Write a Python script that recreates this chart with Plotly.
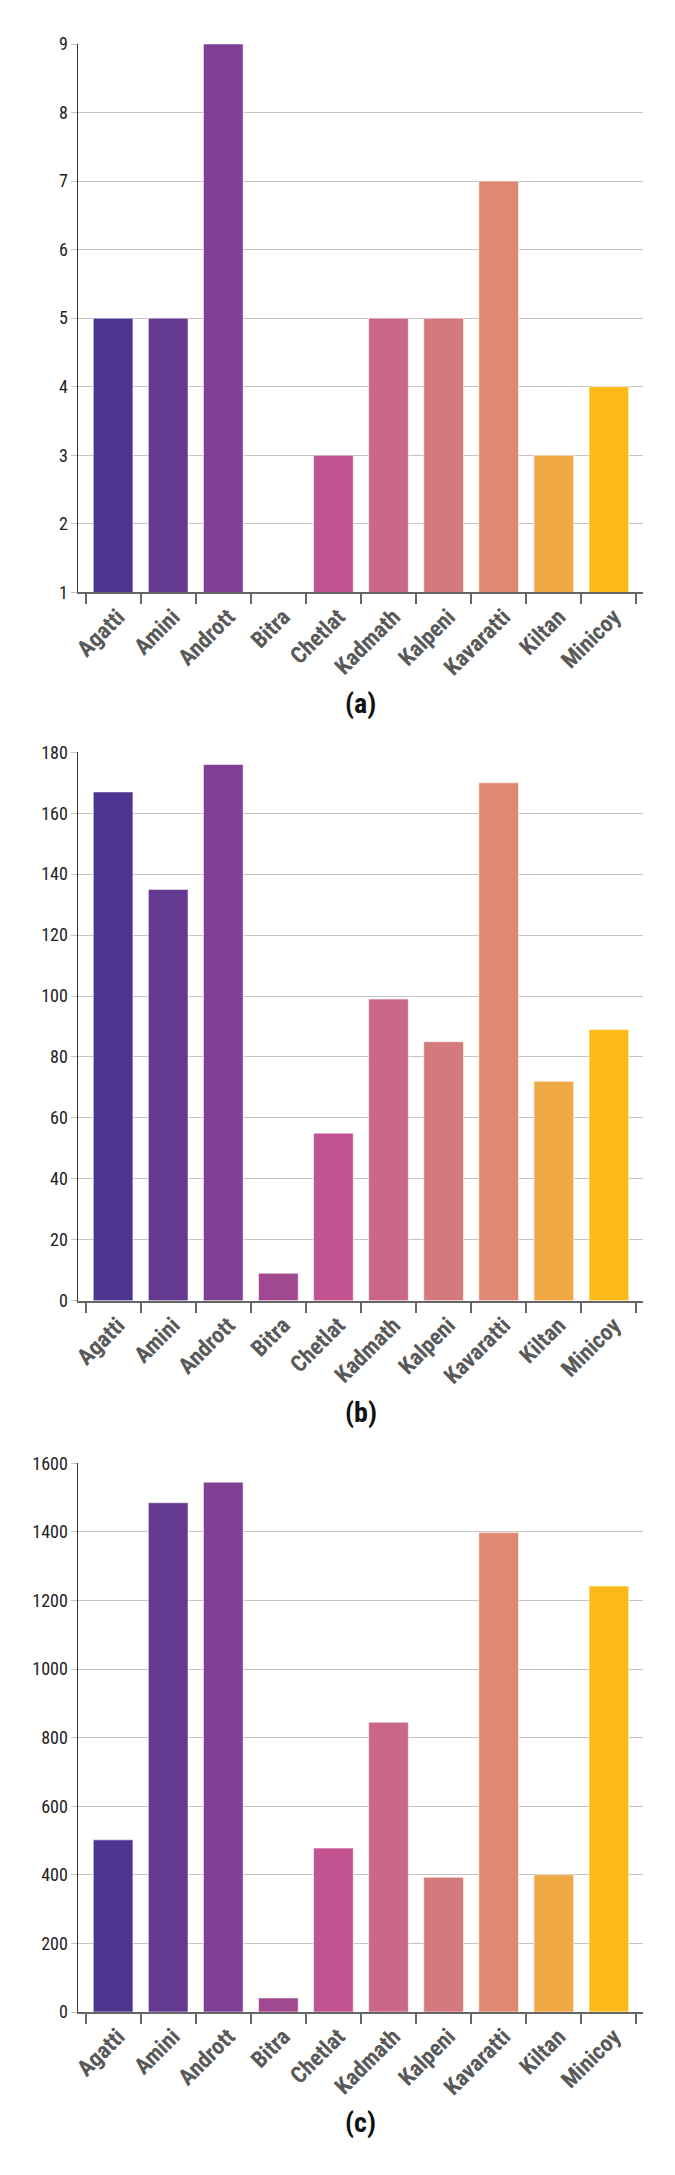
import plotly.graph_objects as go

categories = ["Agatti", "Amini", "Andrott", "Bitra", "Chetlat", "Kadmath",
              "Kalpeni", "Kavaratti", "Kiltan", "Minicoy"]
values_a = [5, 5, 9, 1, 3, 5, 5, 7, 3, 4]
values_b = [167, 135, 176, 9, 55, 99, 85, 170, 72, 89]
values_c = [502, 1485, 1545, 41, 478, 845, 393, 1398, 400, 1242]
panel_titles = ["(a)", "(b)", "(c)"]
y_ranges = [[1, 9], [0, 180], [0, 1600]]
y_dticks = [1, 20, 200]
bar_colors = ["#4E3491", "#643A90", "#7F3F92", "#A14990", "#C25290",
              "#CC6689", "#D4797D", "#DE8971", "#F0A945", "#FBBA18"]

W, H = 675, 2175
panel_px = [(44, 592.3), (752.3, 1300.7), (1463.3, 2012)]
title_px = [703, 1412, 2122]
x_left, x_right = 78.4, 643
FONT = "Roboto Condensed, Liberation Sans Narrow, DejaVu Sans Condensed, Roboto"
EDGE = "rgba(255,255,255,0.55)"

fig = go.Figure()
layout = dict(width=W, height=H, margin=dict(l=0, r=0, t=0, b=0, autoexpand=False),
              plot_bgcolor="white", paper_bgcolor="white",
              showlegend=False, bargap=0.28, annotations=[])

for i, vals in enumerate([values_a, values_b, values_c]):
    n = "" if i == 0 else str(i + 1)
    lo = y_ranges[i][0]
    edges = [EDGE if v > lo else "rgba(0,0,0,0)" for v in vals]
    fig.add_trace(go.Bar(
        x=categories, y=vals, xaxis="x" + n, yaxis="y" + n,
        marker=dict(color=bar_colors, line=dict(color=edges, width=1)),
        hoverinfo="x+y"))
    top, bot = panel_px[i]
    layout["xaxis" + n] = dict(
        domain=[x_left / W, x_right / W], anchor="y" + n, automargin=False,
        type="category", range=[-0.63, 9.62],
        tickson="boundaries", ticks="outside", ticklen=10, tickwidth=1.5,
        tickcolor="#666", showline=True, linecolor="#666", linewidth=2,
        tickangle=-45, showgrid=False, ticklabelshift=5,
        tickfont=dict(family=FONT, size=23, color="#595959", weight="bold"))
    layout["yaxis" + n] = dict(
        domain=[1 - bot / H, 1 - top / H], anchor="x" + n, automargin=False,
        range=y_ranges[i], dtick=y_dticks[i], tick0=0,
        showgrid=True, gridcolor="#c4c4c4", gridwidth=1,
        showline=True, linecolor="#333", linewidth=1,
        ticks="outside", ticklen=6, tickcolor="#c4c4c4",
        zeroline=False,
        tickfont=dict(family=FONT, size=18, color="#222"))
    layout["annotations"].append(dict(
        text="<b>" + panel_titles[i] + "</b>", xref="paper", yref="paper",
        x=(x_left + x_right) / 2 / W, y=1 - title_px[i] / H,
        xanchor="center", yanchor="middle", showarrow=False,
        font=dict(family=FONT, size=28, color="#111")))

fig.update_layout(**layout)
fig.write_html("out.html")
